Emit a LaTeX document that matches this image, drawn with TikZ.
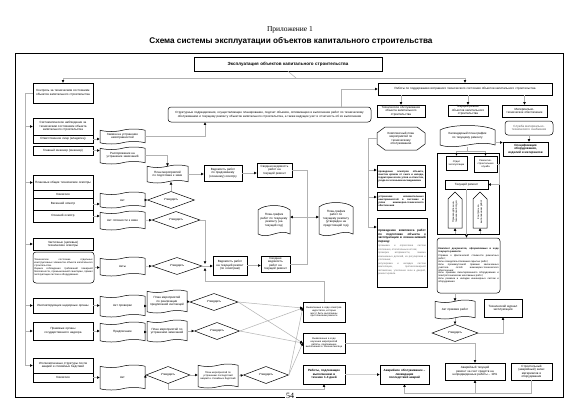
\documentclass[tikz,border=0pt]{standalone}
\usepackage{fontspec}
\setmainfont{Liberation Sans}
\newfontfamily\serifrm{Liberation Serif}
\usetikzlibrary{arrows.meta,shapes.geometric,shapes.symbols,calc}
\newcommand{\ft}{\fontsize{3}{3.5}\selectfont}
\newcommand{\fs}{\fontsize{2.5}{2.9}\selectfont}
\newcommand{\bx}[7][box]{%
 \pgfmathsetmacro\bw{#5-#3}\pgfmathsetmacro\bh{#6-#4}\pgfmathsetmacro\tw{#5-#3-2.5}%
 \node[#1, minimum width=\bw pt, minimum height=\bh pt, text width=\tw pt] (#2) at ({(#3+#5)/2},{(#4+#6)/2}) {#7};}
\newcommand{\scrl}[6]{%
 \pgfmathsetmacro\sw{#4-#2}\pgfmathsetmacro\sa{#2+0.2*\sw}\pgfmathsetmacro\sb{#4-0.2*\sw}%
 \pgfmathsetmacro\sc{#4-\sw/3}\pgfmathsetmacro\sd{#2+\sw/3}\pgfmathsetmacro\stw{\sw-5}\pgfmathsetmacro\sh{#5-#3}%
 \draw[shp] (#2,#5-3) -- (#2,#3+5) .. controls (\sa,#3-1) and (\sb,#3-1) .. (#4,#3+5) -- (#4,#5-3) .. controls (\sc,#5-9) and (\sd,#5+3) .. cycle;
 \node[txt, minimum width=\sw pt, minimum height=\sh pt, text width=\stw pt] (#1) at ({(#2+#4)/2},{(#3+#5)/2-1}) {#6};}
\tikzset{
 shp/.style={draw, line width=0.5pt},
 box/.style={draw, line width=0.5pt, inner sep=0.5pt, align=center, font=\ft},
 rbox/.style={box, rounded corners=3pt},
 bbox/.style={box, font=\ft\bfseries},
 doc/.style={box, shape=tape, tape bend top=in and out, tape bend bottom=in and out, tape bend height=2.5pt},
 dia/.style={draw, diamond, line width=0.5pt, inner sep=0pt, font=\ft},
 txt/.style={inner sep=0.5pt, align=center, font=\ft},
 con/.style={draw=gray!60, line width=0.5pt},
 arr/.style={con, -{Triangle[length=2.6pt,width=2.4pt,color=black]}},
}
\begin{document}
\begin{tikzpicture}[x=1pt,y=-1pt]
\useasboundingbox (0,0) rectangle (580,410);
\fill[white] (0,0) rectangle (580,410);
\node[font=\serifrm\fontsize{7.5}{9}\selectfont] (t1) at (290,30) {Приложение 1};
\node[font=\fontsize{8.2}{10}\selectfont\bfseries] (t2) at (291,41) {Схема системы эксплуатации объектов капитального строительства};
\draw[line width=0.6pt] (15,53) rectangle (563,397);
\node[fill=white, font=\serifrm\fontsize{8}{9}\selectfont, inner sep=1.5pt] (pg) at (290,396) {54};

% top level
\bx[box,font=\fontsize{4.5}{5}\selectfont\bfseries]{T}{194}{57}{382}{71}{Эксплуатация объектов капитального строительства}
\bx{K}{33}{83}{93}{103}{Контроль за техническим состоянием объектов капитального строительства}
\bx{R}{378}{83}{552}{95}{Работы по поддержанию исправного технического состояния объектов капитального строительства}
\bx[rbox]{S}{168}{107}{371}{122}{Структурные подразделения, осуществляющие планирование, подсчет объемов, оптимизацию и выполнение работ по техническому обслуживанию и текущему ремонту объектов капитального строительства, а также ведущие учет и отчетность об их выполнении}
\bx{TO}{377}{105}{425}{117}{Техническое обслуживание объекта капитального строительства}
\bx{TR}{448}{105}{488}{116}{Текущий ремонт объектов капитального строительства}
\bx{MT}{502}{105}{547}{117}{Материально-техническое обеспечение}

% left column
\bx{SN}{33}{118}{93}{135}{Систематическое наблюдение за техническим состоянием объекта капитального строительства}
\bx{OL}{33}{135}{93}{143}{Ответственное лицо (владелец)}
\bx{GI}{33}{146}{93}{155}{Главный инженер (инженер)}
\bx[doc]{ZA}{100}{129}{145}{144}{Заявка на устранение неисправностей}
\bx[doc]{RA}{100}{147}{145}{164}{Распоряжение на устранение замечаний}
\bx{PO}{33}{175}{93}{190}{Плановые общие технические осмотры}
\bx{KM}{33}{190}{93}{198}{Комиссия}
\bx{VE}{33}{198}{93}{210}{Весенний осмотр}
\bx{OS}{33}{210}{93}{222}{Осенний осмотр}
\bx[doc]{A1}{100}{192}{145}{208}{Акт}
\bx[doc]{A2}{100}{211}{145}{230}{Акт готовности к зиме}
\bx{ChT}{33}{238}{93}{250}{Частичные (целевые) технические осмотры}
\bx[rbox,align=justify,font=\fs]{ChR}{33}{252}{94}{283}{Техническое состояние отдельных конструктивных элементов объекта капитального строительства.\\ Оценка соблюдения требований пожарной безопасности, промышленной санитарии, правил эксплуатации систем и оборудования.}
\bx[doc]{A3}{100}{257}{145}{276}{Акты}
\bx{IO}{33}{298}{93}{313}{Инспектирующие надзорные органы}
\bx[doc]{AP}{100}{295}{145}{317}{Акт проверки}
\bx{PrO}{33}{322}{93}{340}{Правовые органы государственного надзора}
\bx[doc]{Pd}{100}{322}{145}{342}{Предписание}
\bx{US}{33}{358}{93}{373}{Уполномоченные структуры после аварий и стихийных бедствий}
\bx{KO}{33}{373}{93}{382}{Комиссия}
\bx[doc]{A4}{100}{365}{145}{390}{Акт}

% middle
\bx[doc]{PZ}{147}{165}{188}{183}{План мероприятий по подготовке к зиме}
\bx{VP}{204}{165}{242}{181}{Ведомость работ по предзимнему (осеннему) осмотру}
\bx{SV1}{257}{163}{292}{177}{Сводная ведомость работ на текущий ремонт}
\node[dia, minimum width=47pt, minimum height=15pt] (D1) at (171,200) {Утвердить};
\node[dia, minimum width=48pt, minimum height=15pt] (D2) at (176,220) {Утвердить};
\node[dia, minimum width=50pt, minimum height=16pt] (D3) at (177,266) {Утвердить};
\bx{VT}{213}{256}{247}{275}{Ведомость работ на текущий ремонт (по осмотрам)}
\bx{SV2}{261}{256}{290}{272}{Сводная ведомость работ на текущий ремонт}
\scrl{PG1}{258}{205}{290}{237}{План-график работ по текущему ремонту (на текущий год)}
\scrl{PG2}{319}{202}{353}{237}{План-график работ по текущему ремонту (утвержден на предстоящий год)}
\bx[doc]{PM1}{147}{290}{187}{313}{План мероприятий по реализации предписаний инспекций}
\node[dia, minimum width=48pt, minimum height=15pt] (DR1) at (214,302) {Утвердить};
\bx[doc]{PM2}{147}{320}{187}{342}{План мероприятий по устранению замечаний}
\node[dia, minimum width=45pt, minimum height=13pt] (DR2) at (217,331) {Утвердить};
\node[dia, minimum width=44pt, minimum height=16pt] (DU1) at (168,375) {Утвердить};
\bx[doc,font=\fs]{PM3}{198}{364}{238}{388}{План мероприятий по устранению последствий аварий и стихийных бедствий}
\node[dia, minimum width=45pt, minimum height=14pt] (DU2) at (266,375) {Утвердить};
\bx[box,font=\fs]{B1}{303}{302}{345}{322}{Выявленные в ходе осмотров недостатки, которые могут быть выполнены при плановом ремонте}
\bx[box,font=\fs]{B2}{303}{333}{345}{353}{Выявленные в ходе изучения мероприятий работы, подлежащие выполнению в течение месяца}
\bx[bbox]{B3}{303}{365}{345}{384}{Работы, подлежащие выполнению в течение 1-3 дней}
\bx[bbox]{AO}{380}{365}{429}{384}{Аварийное обслуживание~-- ликвидация последствий аварий}

% right: maintenance
\draw[shp] (377,133) -- (385,127) -- (417,127) -- (425,133) -- (425,144) -- (417,150) -- (385,150) -- (377,144) -- cycle;
\node[txt, minimum width=48pt, minimum height=23pt, text width=34pt] (HX) at (401,138.5) {Комплексный план мероприятий по техническому обслуживанию};
\bx[bbox,font=\fs\bfseries,line width=0.8pt,align=justify]{BA}{377}{165}{425}{187}{проведение осмотров объекта, очистки кровли от снега и наледи, территории возле углов и отмостки, ухода за зелеными насаждениями}
\bx[bbox,font=\fs\bfseries,line width=0.8pt,align=justify]{BB}{377}{192}{425}{210}{устранение незначительных неисправностей в системах и узлах инженерно-технического обеспечения}
\bx[box,line width=0.8pt,align=justify]{BC}{377}{218}{427}{287}{\textbf{проведение комплекса работ по подготовке объекта к эксплуатации в осенне-зимний период:}\\[1pt] {\fs\color{gray!80!black} промывка и опрессовка систем отопления, отопительных котлов;\\ проверка исправности, замена изношенных деталей, их регулировка и утепление;\\ регулировка и наладка систем вентиляции, противопожарной автоматики, утепление окон и дверей, ремонт кровли.}}

% right: current repair
\scrl{TP}{440}{125}{495}{148}{Календарный план-график по текущему ремонту}
\node[draw, line width=0.5pt, minimum width=62pt, minimum height=81pt, inner sep=0pt] (FR) at (468,193.5) {};
\bx[box,font=\fs]{OE}{446}{156}{467}{170}{Отдел эксплуатации}
\bx[box,font=\fs]{RS}{474}{156}{497}{172}{Ремонтно-строительная служба}
\bx{TRm}{445}{180}{488}{189}{Текущий ремонт}
\draw[shp] (448,228) -- (448,199) -- (455,192) -- (462,199) -- (462,228) -- cycle;
\draw[shp] (473,228) -- (473,199) -- (480,192) -- (487,199) -- (487,228) -- cycle;
\node[inner sep=0pt, minimum width=14pt, minimum height=36pt] (P1) at (455,210) {};
\node[inner sep=0pt, minimum width=14pt, minimum height=36pt] (P2) at (480,210) {};
\node[txt, font=\fs, rotate=90, text width=30pt] (P1t) at (455,212) {Производственно-технический отдел};
\node[txt, font=\fs, rotate=90, text width=30pt] (P2t) at (480,212) {Контроль за выполнением работ};
\bx[rbox,font=\fs,align=justify]{KD}{437}{238}{500}{293}{\textbf{Комплект документов, оформляемых в ходе текущего ремонта:}\\[1pt] Справка о фактической стоимости ремонтных работ;\\ Акты освидетельствования скрытых работ;\\ Акты промежуточной приемки законченных участков сетей инженерно-технического обеспечения;\\ Акты приемки смонтированного оборудования и электротехнических монтажных работ;\\ Акты ревизии и наладки инженерных систем и оборудования.}
\bx[doc]{AK}{435}{300}{475}{319}{Акт приемки работ}
\node[dia, minimum width=46pt, minimum height=13pt] (DA) at (455,333) {Утвердить};
\bx{TJ}{484}{299}{522}{317}{Технический журнал эксплуатации}
\bx{ATR}{445}{363}{505}{380}{Аварийный текущий ремонт за счет средств на непредвиденные работы~-- 10\%}
\bx{SZ}{511}{363}{552}{380}{Строительный (аварийный) запас материалов и оборудования}
\bx[rbox,text=gray!70!black]{SMT}{505}{121}{553}{135}{Служба материально-технического снабжения}
\bx[bbox]{SP}{503}{142}{548}{156}{Спецификация оборудования, изделий и материалов}

% ---------------- connectors
\coordinate (J) at (296,78);
\draw[con] (T.south) -- (J);
\draw[arr] (J) -| (K.north);
\draw[arr] (J) -| (R.north);
\draw[arr] (R.south -| TO.north) -- (TO.north);
\draw[arr] (R.south -| TR.north) -- (TR.north);
\draw[arr] (R.south -| MT.north) -- (MT.north);
\draw[arr] ([xshift=71.5pt]S.north) |- (R.west);

\coordinate (L0) at (25,93);
\draw[con] (K.west) -- (L0) -- (L0 |- US.west);
\foreach \n in {SN,PO,ChT,IO,PrO,US} \draw[arr] (L0 |- \n.west) -- (\n.west);
\draw[arr] (OL.east) -- (OL.east -| ZA.west);
\draw[arr] (GI.east) -- (GI.east -| RA.west);
\draw[arr] (ZA.east) -| ([xshift=-64.5pt]S.south);
\draw[arr] (RA.east) -| (PZ.north);
\draw[arr] (PZ.east) -- (PZ.east -| VP.west);
\draw[arr] (VP.east) -- (VP.east -| SV1.west);
\draw[arr] (D1.north) -- (D1.north |- PZ.south);
\draw[arr] (VE.east) -- (VE.east -| A1.west);
\draw[arr] (OS.east) -- (OS.east -| A2.west);
\draw[arr] (A1.east) -- (D1.west);
\draw[arr] (A2.east) -- (D2.west);
\draw[arr] (ChR.east) -- (ChR.east -| A3.west);
\draw[arr] (A3.east) -- (D3.west);
\coordinate (V) at (205,266);
\coordinate (H) at (205,281);
\draw[arr] (D3.east) -- (D3.east -| VT.west);
\draw[arr] (D2.east) -| ([yshift=2pt]V);
\draw[arr] (B1.north) |- (H) -- ([yshift=-2pt]V);
\draw[arr] (VT.east) -- (VT.east -| SV2.west);
\coordinate (M) at (307,217);
\draw[con] (SV1.east) -| (M);
\draw[con] (SV2.east) -| (M);
\draw[arr] (M) -- (M -| PG1.east);
\draw[arr] (M) -- (M -| PG2.west);

\draw[arr] (IO.east) -- (IO.east -| AP.west);
\draw[arr] (AP.east) -- (AP.east -| PM1.west);
\draw[arr] (PM1.east) -- (DR1.west);
\draw[arr] (PrO.east) -- (PrO.east -| Pd.west);
\draw[arr] (Pd.east) -- (Pd.east -| PM2.west);
\draw[arr] (PM2.east) -- (DR2.west);
\draw[arr] (KO.east) -- (KO.east -| A4.west);
\draw[arr] (A4.east) -- (DU1.west);
\draw[arr] (DU1.east) -- (DU1.east -| PM3.west);
\draw[arr] (PM3.east) -- (DU2.west);
\coordinate (B1in) at ([yshift=4pt]B1.west);
\foreach \d in {DR1,DR2,DU2} {\draw[arr] (\d.east) -- (B1in); \draw[arr] (\d.east) -- (B2.west);}
\coordinate (Q) at (168,389);
\draw[arr] (DU1.south) -- (Q) -| (B3.south);
\draw[arr, line width=1.3pt, draw=gray!40] (B3.east) -- (AO.west);
\coordinate (Z) at (531.5,393);
\draw[con] (SZ.south) -- (Z);
\draw[arr] (Z) -| (AO.south);
\draw[arr] (Z) -| (ATR.south);
\draw[arr] (B2.east) -| (ATR.north);

\coordinate (X) at (368,138.5);
\coordinate (ya) at ([yshift=6pt]BA.west);
\coordinate (yb) at ([yshift=4pt]BB.west);
\coordinate (yc) at ([yshift=25.5pt]BC.west);
\draw[con] (HX.west) -- (X) -- (X |- yc);
\draw[arr] (X |- ya) -- (ya);
\draw[arr] (X |- yb) -- (yb);
\draw[arr] (X |- yc) -- (yc);

\coordinate (tb) at (467.5,151);
\draw[con] (TP.south) -- (tb);
\draw[arr] (tb) -| (OE.north);
\draw[arr] (tb) -| (RS.north);
\draw[arr] ([yshift=-7pt]TP.east) -- ([yshift=-7pt]TP.east -| SP.west);
\draw[arr] (SMT.south) -- (SMT.south |- SP.north);
\draw[arr] (RS.east) -| ([xshift=2pt]RS.east |- TRm.east) -- (TRm.east);
\draw[arr] (P1.south |- FR.south) -- (P1.south);
\draw[arr] (P2.south |- FR.south) -- (P2.south);
\draw[arr] (TRm.south) -- (TRm.south |- KD.north);
\draw[arr] (KD.south -| AK.north) -- (AK.north);
\draw[arr] (AK.south) -- (DA.north);
\draw[arr] (DA.east) -| (TJ.south);
\end{tikzpicture}
\end{document}
